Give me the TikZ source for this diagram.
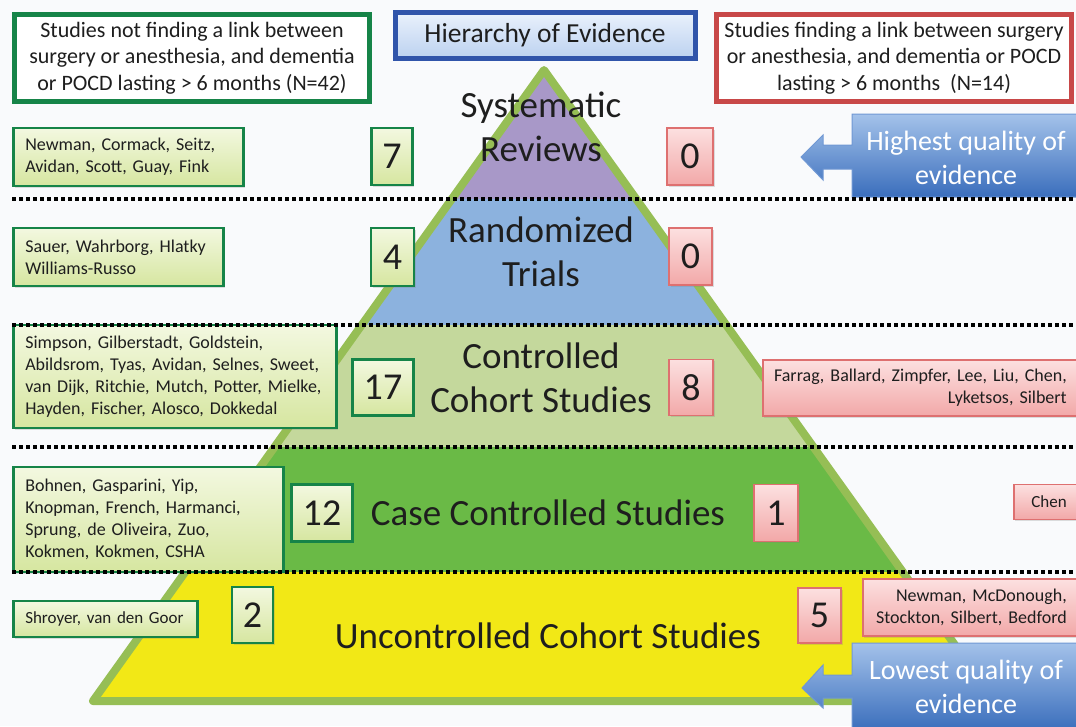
\documentclass[tikz,border=0pt]{standalone}
\usepackage{fontspec}
\setmainfont{Carlito}
\usetikzlibrary{shadows}
\definecolor{ink}{RGB}{30,30,30}
\definecolor{paper}{RGB}{249,250,252}
\definecolor{grnedge}{RGB}{22,132,72}
\definecolor{grntop}{RGB}{243,248,224}
\definecolor{grnbot}{RGB}{214,230,160}
\definecolor{redhead}{RGB}{200,72,72}
\definecolor{rededge}{RGB}{222,112,112}
\definecolor{redtop}{RGB}{252,224,224}
\definecolor{redbot}{RGB}{242,168,168}
\definecolor{ttledge}{RGB}{48,84,170}
\definecolor{ttltop}{RGB}{234,241,252}
\definecolor{ttlbot}{RGB}{188,210,240}
\definecolor{pyredge}{RGB}{150,190,85}
\definecolor{tierA}{RGB}{168,152,200}
\definecolor{tierB}{RGB}{140,178,222}
\definecolor{tierC}{RGB}{196,216,156}
\definecolor{tierD}{RGB}{106,186,70}
\definecolor{tierE}{RGB}{242,232,22}
\definecolor{calltop}{RGB}{164,194,234}
\definecolor{callbot}{RGB}{58,110,188}
\definecolor{calledge}{RGB}{112,152,212}
\begin{document}
\begin{tikzpicture}[x=1pt, y=-1pt,
  hdbox/.style={rectangle, line width=5, fill=white, align=center, text=ink,
    font=\fontsize{22}{26.5}\selectfont, inner sep=0, minimum width=355, minimum height=87},
  ttlbox/.style={rectangle, draw=ttledge, line width=5, top color=ttltop, bottom color=ttlbot,
    text=ink, font=\fontsize{27.5}{30}\selectfont, inner sep=0, minimum width=300, minimum height=46},
  srcg/.style={rectangle, draw=grnedge, line width=2.5, top color=grntop, bottom color=grnbot,
    drop shadow={opacity=.25, shadow xshift=1.5pt, shadow yshift=-1.5pt},
    align=left, text=ink, font=\fontsize{18}{22}\selectfont, inner xsep=12, inner ysep=0, anchor=west},
  srcr/.style={rectangle, draw=rededge, line width=1.5, top color=redtop, bottom color=redbot,
    drop shadow={opacity=.25, shadow xshift=1.5pt, shadow yshift=-1.5pt},
    align=right, text=ink, font=\fontsize{18}{22}\selectfont, inner xsep=11, inner ysep=0, anchor=west},
  numg/.style={rectangle, draw=grnedge, line width=2.5, top color=grntop, bottom color=grnbot,
    drop shadow={opacity=.25, shadow xshift=1.5pt, shadow yshift=-1.5pt},
    text=ink, font=\fontsize{38}{38}\selectfont, inner sep=0},
  numr/.style={rectangle, draw=rededge, line width=1.5, top color=redtop, bottom color=redbot,
    drop shadow={opacity=.25, shadow xshift=1.5pt, shadow yshift=-1.5pt},
    text=ink, font=\fontsize{38}{38}\selectfont, inner sep=0},
  tier/.style={align=center, text=ink, font=\fontsize{37}{44}\selectfont, inner sep=0},
  callout/.style={draw=calledge, line width=1, top color=calltop, bottom color=callbot},
  calltext/.style={align=center, text=white, font=\fontsize{28}{33.5}\selectfont, inner sep=0},
  dotline/.style={line width=4, dash pattern=on 4 off 3},
]
\useasboundingbox (0,0) rectangle (1076,726);
\fill[paper] (0,0) rectangle (1076,726);

% pyramid
\coordinate (apex) at (544,70);
\coordinate (bl) at (93,701);
\coordinate (br) at (995,701);
\begin{scope}
  \clip (apex) -- (bl) -- (br) -- cycle;
  \fill[tierA] (0,0) rectangle (1076,199);
  \fill[tierB] (0,199) rectangle (1076,325);
  \fill[tierC] (0,325) rectangle (1076,447);
  \fill[tierD] (0,447) rectangle (1076,572);
  \fill[tierE] (0,572) rectangle (1076,726);
\end{scope}
\draw[pyredge, line width=8, line join=round] (apex) -- (bl) -- (br) -- cycle;

% quality arrows
\draw[callout] (852,114) -- (1082,114) -- (1082,197) -- (852,197) -- (852,169) -- (823,169)
  -- (823,180) -- (801,157) -- (823,135) -- (823,145) -- (852,145) -- cycle;
\draw[callout] (852,643) -- (1082,643) -- (1082,730) -- (852,730) -- (852,698) -- (823,698)
  -- (823,708) -- (802,688) -- (823,665) -- (823,675) -- (852,675) -- cycle;
\node[calltext] (hiq) at (966,158) {Highest quality of\\evidence};
\node[calltext] (loq) at (966,687) {Lowest quality of\\evidence};

% headers
\node[hdbox, draw=grnedge] (neg) at (192,58) {Studies not finding a link between\\surgery or anesthesia, and dementia\\or POCD lasting > 6 months (N=42)};
\node[ttlbox] (ttl) at (545,35) {Hierarchy of Evidence};
\node[hdbox, draw=redhead] (pos) at (894,58) {Studies finding a link between surgery\\or anesthesia, and dementia or POCD\\lasting > 6 months~~(N=14)};

% tiers
\node[tier] (sr) at (541,127) {Systematic\\Reviews};
\node[tier] (rt) at (541,252) {Randomized\\Trials};
\node[tier] (cc) at (541,378) {Controlled\\Cohort Studies};
\node[tier] (cs) at (548,513) {Case Controlled Studies};
\node[tier] (uc) at (548,636) {Uncontrolled Cohort Studies};

% no link
\node[srcg, text width=206, minimum height=58] (srN) at (12,157) {Newman, Cormack, Seitz,\\Avidan, Scott, Guay, Fink};
\node[srcg, text width=186, minimum height=58] (rtN) at (12,257) {Sauer, Wahrborg, Hlatky\\Williams-Russo};
\node[srcg, text width=299, minimum height=103] (ccN) at (12,376.5) {Simpson, Gilberstadt, Goldstein,\\Abildsrom, Tyas, Avidan, Selnes, Sweet,\\van Dijk, Ritchie, Mutch, Potter, Mielke,\\Hayden, Fischer, Alosco, Dokkedal};
\node[srcg, text width=246, minimum height=105] (csN) at (12,519.5) {Bohnen, Gasparini, Yip,\\Knopman, French, Harmanci,\\Sprung, de Oliveira, Zuo,\\Kokmen, Kokmen, CSHA};
\node[srcg, text width=160, minimum height=36, font=\fontsize{17}{21}\selectfont] (ucN) at (12,619) {Shroyer, van den Goor};

\node[numg, minimum width=41, minimum height=57] (srn) at (392,156.5) {7};
\node[numg, minimum width=43, minimum height=58] (rtn) at (392.5,257) {4};
\node[numg, minimum width=61, minimum height=56] (ccn) at (383,387.5) {17};
\node[numg, minimum width=61, minimum height=57] (csn) at (322,513) {12};
\node[numg, minimum width=41, minimum height=56] (ucn) at (252.5,615) {2};

% link
\node[numr, minimum width=46, minimum height=57] (srp) at (690,156.5) {0};
\node[numr, minimum width=43, minimum height=57] (rtp) at (690.5,256.5) {0};
\node[numr, minimum width=44, minimum height=56] (ccp) at (691,387.5) {8};
\node[numr, minimum width=44, minimum height=57] (csp) at (776,513) {1};
\node[numr, minimum width=43, minimum height=55] (ucp) at (819.5,615.5) {5};

\node[srcr, text width=293, minimum height=56] (ccP) at (762,388) {Farrag, Ballard, Zimpfer, Lee, Liu, Chen,\\Lyketsos, Silbert};
\node[srcr, text width=42, minimum height=35, font=\fontsize{17}{21}\selectfont] (csP) at (1013,502) {Chen};
\node[srcr, text width=193, minimum height=57] (ucP) at (862,607.5) {Newman, McDonough,\\Stockton, Silbert, Bedford};

% tier borders
\foreach \yy in {199,325,447,572}
  \draw[dotline] (12,\yy) -- (1076,\yy);
\end{tikzpicture}
\end{document}
